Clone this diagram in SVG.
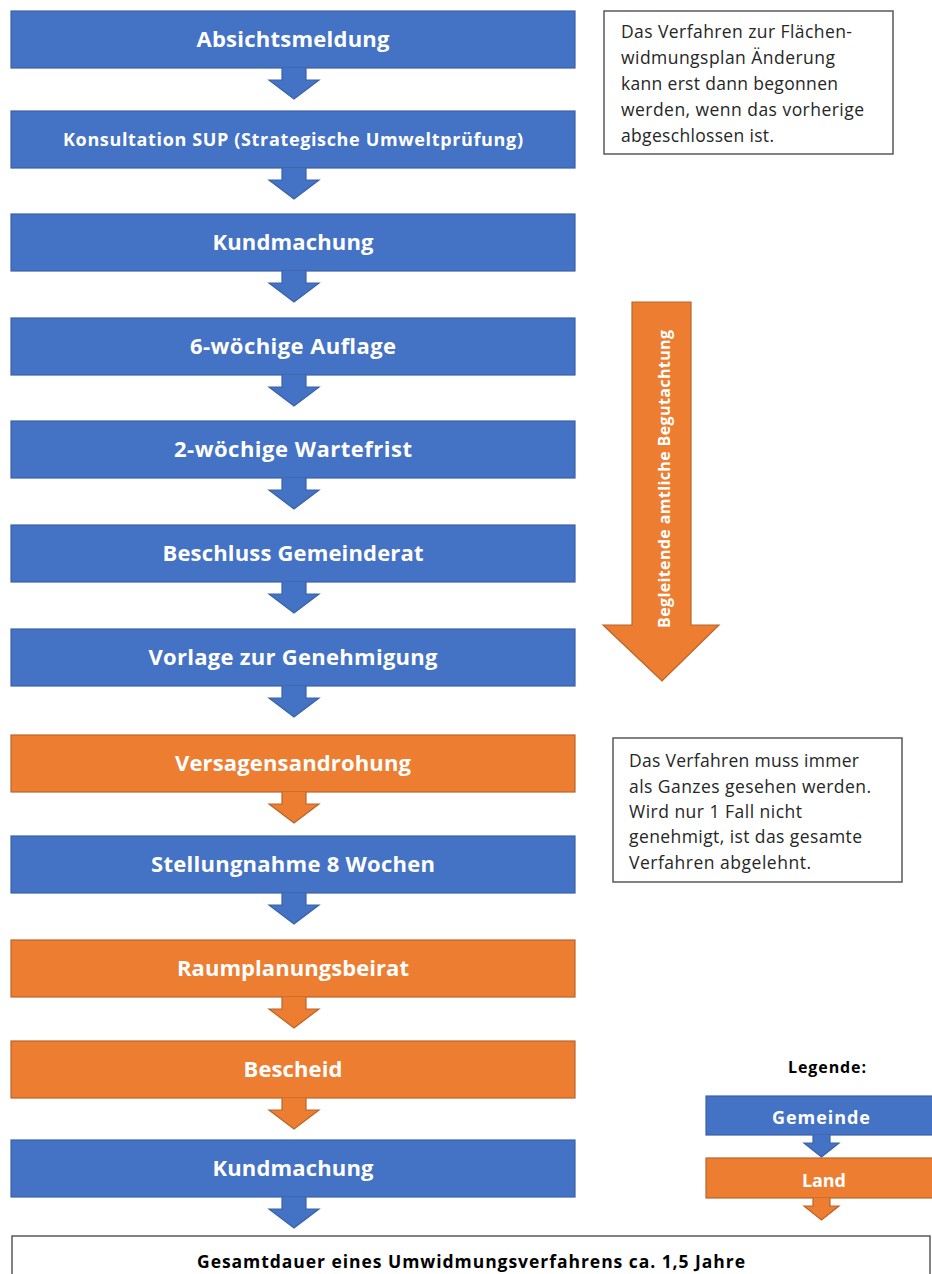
<svg xmlns="http://www.w3.org/2000/svg" width="932" height="1274" viewBox="0 0 932 1274">
<style>
.bl{fill:#4472C4;stroke:#3A62A8;stroke-width:1.2}
.or{fill:#ED7D31;stroke:#B8652A;stroke-width:1.2}
.t{font-family:"Open Sans","Noto Sans","Liberation Sans",sans-serif;font-weight:bold;fill:#fff;font-size:22px;text-anchor:middle}
.ts{font-size:18px}
.note{fill:#fff;stroke:#595959;stroke-width:1.5}
.nt{font-family:"Open Sans","Noto Sans","Liberation Sans",sans-serif;font-size:17.5px;fill:#262626}
.lg{font-family:"Open Sans","Noto Sans","Liberation Sans",sans-serif;font-weight:bold;fill:#000}
</style>
<rect width="932" height="1274" fill="#fff"/>

<g id="n1"><rect class="bl" x="11" y="11" width="564" height="57"/><text class="t" x="293" y="47" textLength="193">Absichtsmeldung</text></g>
<g id="n2"><rect class="bl" x="11" y="111" width="564" height="57"/><text class="t ts" x="293" y="146" textLength="460">Konsultation SUP (Strategische Umweltprüfung)</text></g>
<g id="n3"><rect class="bl" x="11" y="214" width="564" height="57"/><text class="t" x="293" y="250" textLength="161">Kundmachung</text></g>
<g id="n4"><rect class="bl" x="11" y="318" width="564" height="57"/><text class="t" x="293" y="354" textLength="206">6-wöchige Auflage</text></g>
<g id="n5"><rect class="bl" x="11" y="421" width="564" height="57"/><text class="t" x="293" y="457" textLength="238">2-wöchige Wartefrist</text></g>
<g id="n6"><rect class="bl" x="11" y="525" width="564" height="57"/><text class="t" x="293" y="561" textLength="261">Beschluss Gemeinderat</text></g>
<g id="n7"><rect class="bl" x="11" y="629" width="564" height="57"/><text class="t" x="293" y="665" textLength="289">Vorlage zur Genehmigung</text></g>
<g id="n8"><rect class="or" x="11" y="735" width="564" height="57"/><text class="t" x="293" y="771" textLength="236">Versagensandrohung</text></g>
<g id="n9"><rect class="bl" x="11" y="836" width="564" height="57"/><text class="t" x="293" y="872" textLength="284">Stellungnahme 8 Wochen</text></g>
<g id="n10"><rect class="or" x="11" y="940" width="564" height="57"/><text class="t" x="293" y="976" textLength="232">Raumplanungsbeirat</text></g>
<g id="n11"><rect class="or" x="11" y="1041" width="564" height="57"/><text class="t" x="293" y="1077" textLength="99">Bescheid</text></g>
<g id="n12"><rect class="bl" x="11" y="1140" width="564" height="57"/><text class="t" x="293" y="1176" textLength="161">Kundmachung</text></g>

<g id="connectors">
<path class="bl" d="M282,68 V80 H269 L294,99 L319,80 H306 V68"/>
<path class="bl" d="M282,168 V180 H269 L294,199 L319,180 H306 V168"/>
<path class="bl" d="M282,271 V283 H269 L294,302 L319,283 H306 V271"/>
<path class="bl" d="M282,375 V387 H269 L294,406 L319,387 H306 V375"/>
<path class="bl" d="M282,478 V490 H269 L294,509 L319,490 H306 V478"/>
<path class="bl" d="M282,582 V594 H269 L294,613 L319,594 H306 V582"/>
<path class="bl" d="M282,686 V698 H269 L294,717 L319,698 H306 V686"/>
<path class="or" d="M282,792 V804 H269 L294,823 L319,804 H306 V792"/>
<path class="bl" d="M282,893 V905 H269 L294,924 L319,905 H306 V893"/>
<path class="or" d="M282,997 V1009 H269 L294,1028 L319,1009 H306 V997"/>
<path class="or" d="M282,1098 V1110 H269 L294,1129 L319,1110 H306 V1098"/>
<path class="bl" d="M282,1197 V1209 H269 L294,1228 L319,1209 H306 V1197"/>
</g>

<g id="begutachtung">
<path class="or" d="M632,302 H691 V625 H719 L662,681 L603,625 H632 Z"/>
<text class="t" style="font-size:16px" transform="translate(670,479) rotate(-90)" x="0" y="0" textLength="298">Begleitende amtliche Begutachtung</text>
</g>

<g id="note1">
<rect class="note" x="604" y="11" width="289" height="143"/>
<text class="nt" x="621" y="38" textLength="231">Das Verfahren zur Flächen-</text>
<text class="nt" x="621" y="64" textLength="214">widmungsplan Änderung</text>
<text class="nt" x="621" y="90" textLength="217">kann erst dann begonnen</text>
<text class="nt" x="621" y="116" textLength="243">werden, wenn das vorherige</text>
<text class="nt" x="621" y="142" textLength="153">abgeschlossen ist.</text>
</g>

<g id="note2">
<rect class="note" x="613" y="738" width="289" height="144"/>
<text class="nt" x="629" y="767" textLength="230">Das Verfahren muss immer</text>
<text class="nt" x="629" y="793" textLength="242">als Ganzes gesehen werden.</text>
<text class="nt" x="629" y="818" textLength="173">Wird nur 1 Fall nicht</text>
<text class="nt" x="629" y="843" textLength="233">genehmigt, ist das gesamte</text>
<text class="nt" x="629" y="869" textLength="182">Verfahren abgelehnt.</text>
</g>

<g id="legend">
<text class="lg" x="788" y="1073" style="font-size:16px" textLength="78">Legende:</text>
<rect class="bl" x="706" y="1096" width="232" height="39"/>
<path class="bl" d="M813,1135 V1143 H804 L821.5,1157 L839,1143 H830 V1135"/>
<text class="t" style="font-size:18px" x="821" y="1124" textLength="98">Gemeinde</text>
<rect class="or" x="706" y="1158" width="232" height="40"/>
<path class="or" d="M813,1198 V1206 H804 L821.5,1220 L839,1206 H830 V1198"/>
<text class="t" style="font-size:18px" x="824" y="1187" textLength="44">Land</text>
</g>

<g id="total">
<rect class="note" x="12" y="1236" width="918" height="60"/>
<text class="lg" x="471" y="1268" style="font-size:17.5px;text-anchor:middle" textLength="548">Gesamtdauer eines Umwidmungsverfahrens ca. 1,5 Jahre</text>
</g>
</svg>
